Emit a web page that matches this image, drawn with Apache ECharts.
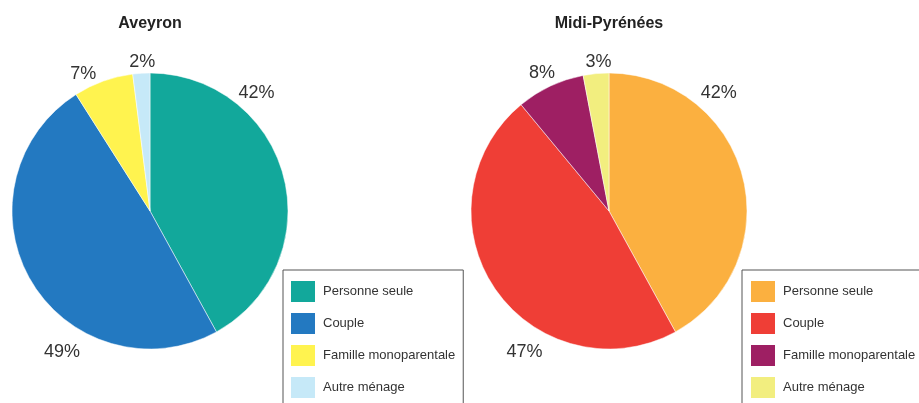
<!DOCTYPE html>
<html>
<head>
<meta charset="utf-8">
<script src="https://cdn.jsdelivr.net/npm/echarts@6/dist/echarts.min.js"></script>
<style>
  html, body { margin: 0; padding: 0; background: #fff; }
  #chart { width: 919px; height: 403px; }
</style>
</head>
<body>
<div id="chart"></div>
<script>
// data
var categories = ["Personne seule", "Couple", "Famille monoparentale", "Autre ménage"];
var aveyronValues = [42, 49, 7, 2];
var midiPyreneesValues = [42, 47, 8, 3];
var titles = ["Aveyron", "Midi-Pyrénées"];

// styles
var aveyronColors = ["#12a89b", "#2379c1", "#fff34f", "#c6e9f8"];
var midiColors = ["#fbb040", "#ef3e36", "#9e1f63", "#f2ee7f"];
var pieCenters = [[150, 211], [609, 211]];
var pieRadius = 138;
// where each percentage label sits (degrees clockwise from top, distance from center)
var labelAngles = [[42, 212, 334, 357], [43, 211, 334, 356]];
var labelDist = [[159, 166, 152, 149], [161, 164, 153, 149]];

var chart = echarts.init(document.getElementById("chart"));

function pieSeries(idx, values, colors) {
  return {
    type: "pie",
    center: pieCenters[idx],
    radius: pieRadius,
    startAngle: 90,
    clockwise: true,
    silent: true,
    avoidLabelOverlap: false,
    itemStyle: { borderColor: "#fff", borderWidth: 0.5 },
    label: {
      show: true,
      position: "outside",
      formatter: "{c}%",
      fontSize: 18,
      color: "#333",
      fontFamily: "Liberation Sans"
    },
    labelLine: { show: false },
    labelLayout: function (p) {
      var a = labelAngles[idx][p.dataIndex] * Math.PI / 180;
      var d = labelDist[idx][p.dataIndex];
      return {
        x: pieCenters[idx][0] + Math.sin(a) * d,
        y: pieCenters[idx][1] - Math.cos(a) * d,
        align: "center",
        verticalAlign: "middle"
      };
    },
    data: categories.map(function (name, i) {
      return { name: name, value: values[i], itemStyle: { color: colors[i] } };
    })
  };
}

function legendBox(left, padLeft, colors) {
  return {
    orient: "vertical",
    left: left,
    top: 270,
    height: 150,
    icon: "rect",
    itemWidth: 26,
    itemHeight: 23,
    itemGap: 7,
    padding: [9, 8, 14, padLeft],
    borderColor: "#555",
    borderWidth: 1,
    selectedMode: false,
    textStyle: { fontSize: 13, color: "#333", fontFamily: "Liberation Sans", padding: [0, 0, 0, 2] },
    data: categories.map(function (name, i) {
      return { name: name, itemStyle: { color: colors[i] } };
    })
  };
}

chart.setOption({
  animation: false,
  title: titles.map(function (t, i) {
    return {
      text: t,
      left: pieCenters[i][0],
      top: 16,
      padding: 0,
      textAlign: "center",
      textStyle: { fontSize: 16, fontWeight: "bold", color: "#222", fontFamily: "Liberation Sans" }
    };
  }),
  legend: [legendBox(283, 6, aveyronColors), legendBox(742, 7, midiColors)],
  series: [
    pieSeries(0, aveyronValues, aveyronColors),
    pieSeries(1, midiPyreneesValues, midiColors)
  ]
});
</script>
</body>
</html>
